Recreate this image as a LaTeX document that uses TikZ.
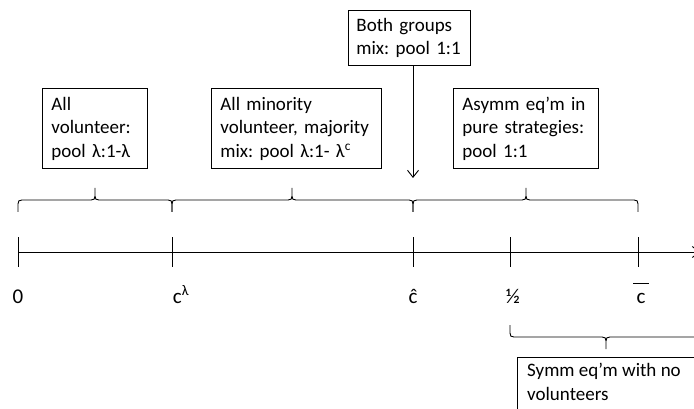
\documentclass[tikz,border=0pt]{standalone}
\usepackage{fontspec}
\setmainfont{Carlito}
\frenchspacing
\usetikzlibrary{arrows.meta}
\newcommand\mycbar{\setbox0\hbox{c}\hbox to \wd0{\hss\raisebox{19pt}{\rule{16pt}{0.9pt}}\hss}\kern-\wd0 c}
% brace: x1, xm, x2, ybar, dir (+1 opens downward, -1 opens upward)
\newcommand\mybrace[5]{%
  \draw[ln] (#1,#4+#5*12) -- (#1,#4+#5*4) .. controls (#1,#4+#5*1) and (#1+1,#4) .. (#1+4,#4)
    -- (#2-4,#4) .. controls (#2-1,#4) and (#2,#4-#5*1) .. (#2,#4-#5*4) -- (#2,#4-#5*12)
    (#2,#4-#5*4) .. controls (#2,#4-#5*1) and (#2+1,#4) .. (#2+4,#4)
    -- (#3-4,#4) .. controls (#3-1,#4) and (#3,#4+#5*1) .. (#3,#4+#5*4) -- (#3,#4+#5*12);}
\begin{document}
\begin{tikzpicture}[x=1pt,y=-1pt,
  ln/.style={line width=0.9pt,black},
  arr/.style={ln,-{Straight Barb[length=7pt,width=11pt,line width=0.9pt]}},
  txt/.style={font=\fontsize{19}{23.5}\selectfont},
  boxnode/.style={txt,draw,line width=0.9pt,anchor=north west,align=left,inner xsep=9pt,inner ysep=2pt},
  lab/.style={font=\fontsize{21}{24}\selectfont,anchor=base,inner sep=0pt}]
\useasboundingbox (0,0) rectangle (694,409);
\clip (0,0) rectangle (694,409);
% boxes
\node[boxnode,text width=87pt,minimum height=80pt] (b1) at (42,88) {All\\volunteer:\\pool λ:1-λ};
\node[boxnode,text width=152pt,minimum height=80pt] (b2) at (211,88) {All minority\\volunteer, majority\\mix: pool λ:1- λ\textsuperscript{c}};
\node[boxnode,inner xsep=8pt,text width=106pt,minimum height=55pt] (b3) at (348,10) {Both groups\\mix: pool 1:1};
\node[boxnode,text width=127pt,minimum height=80pt] (b4) at (453,88) {Asymm eq’m in\\pure strategies:\\pool 1:1};
\node[draw,line width=0.9pt,anchor=north west,minimum width=200pt,minimum height=80pt,inner sep=0pt] (b5) at (517,357) {};
\node[txt,anchor=base west,align=left,inner sep=0pt] (b5t) at (527,400) {Symm eq’m with no\\volunteers};
% axis
\coordinate (t0) at (18,252);
\coordinate (t1) at (172,252);
\coordinate (t2) at (413,252);
\coordinate (t3) at (510,252);
\coordinate (t4) at (638,252);
\coordinate (axe) at (700,252);
\draw[arr] (t0) -- (axe);
\foreach \t in {t0,t1,t2,t3,t4} \draw[ln] (\t) ++(0,-15) -- ++(0,30);
% labels
\node[lab] (l0) at (18,303) {0};
\node[lab] (l1) at (181,303) {c\textsuperscript{λ}};
\node[lab] (l2) at (413,303) {ĉ};
\node[lab] (l3) at (513,303) {½};
\node[lab] (l4) at (641,303) {\mycbar};
% arrow from box 3
\coordinate (ae) at (413,178);
\draw[arr] (b3.south -| t2) -- (ae);
% braces
\mybrace{18}{95}{172}{200}{1}
\mybrace{172}{292}{413}{200}{1}
\mybrace{413}{526}{638}{200}{1}
\mybrace{510}{606}{702}{337}{-1}
\end{tikzpicture}
\end{document}
